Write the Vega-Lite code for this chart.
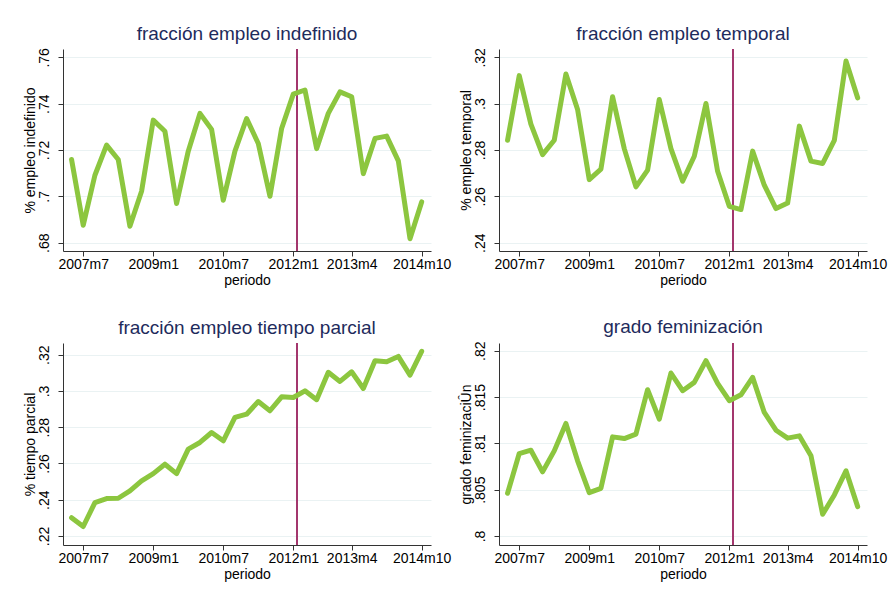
{
  "$schema": "https://vega.github.io/schema/vega-lite/v6.json",
  "background": "white",
  "padding": {"left": 22, "top": 24, "right": 5, "bottom": 5},
  "data": {"values": [
    {"t": 567, "periodo": "2007m4", "indef": 0.7159, "temp": 0.2842, "parcial": 0.2301, "femin": 0.80461},
    {"t": 570, "periodo": "2007m7", "indef": 0.6875, "temp": 0.3121, "parcial": 0.2252, "femin": 0.80890},
    {"t": 573, "periodo": "2007m10", "indef": 0.7091, "temp": 0.2912, "parcial": 0.2384, "femin": 0.80926},
    {"t": 576, "periodo": "2008m1", "indef": 0.7221, "temp": 0.2780, "parcial": 0.2406, "femin": 0.80692},
    {"t": 579, "periodo": "2008m4", "indef": 0.7159, "temp": 0.2842, "parcial": 0.2408, "femin": 0.80919},
    {"t": 582, "periodo": "2008m7", "indef": 0.6871, "temp": 0.3128, "parcial": 0.2449, "femin": 0.81215},
    {"t": 585, "periodo": "2008m10", "indef": 0.7022, "temp": 0.2975, "parcial": 0.2504, "femin": 0.80811},
    {"t": 588, "periodo": "2009m1", "indef": 0.7329, "temp": 0.2672, "parcial": 0.2544, "femin": 0.80469},
    {"t": 591, "periodo": "2009m4", "indef": 0.7281, "temp": 0.2717, "parcial": 0.2596, "femin": 0.80515},
    {"t": 594, "periodo": "2009m7", "indef": 0.6969, "temp": 0.3030, "parcial": 0.2544, "femin": 0.81070},
    {"t": 597, "periodo": "2009m10", "indef": 0.7195, "temp": 0.2806, "parcial": 0.2679, "femin": 0.81052},
    {"t": 600, "periodo": "2010m1", "indef": 0.7358, "temp": 0.2641, "parcial": 0.2716, "femin": 0.81099},
    {"t": 603, "periodo": "2010m4", "indef": 0.7289, "temp": 0.2713, "parcial": 0.2771, "femin": 0.81579},
    {"t": 606, "periodo": "2010m7", "indef": 0.6983, "temp": 0.3018, "parcial": 0.2725, "femin": 0.81261},
    {"t": 609, "periodo": "2010m10", "indef": 0.7195, "temp": 0.2806, "parcial": 0.2854, "femin": 0.81759},
    {"t": 612, "periodo": "2011m1", "indef": 0.7336, "temp": 0.2665, "parcial": 0.2872, "femin": 0.81568},
    {"t": 615, "periodo": "2011m4", "indef": 0.7228, "temp": 0.2773, "parcial": 0.2942, "femin": 0.81658},
    {"t": 618, "periodo": "2011m7", "indef": 0.7000, "temp": 0.3001, "parcial": 0.2891, "femin": 0.81892},
    {"t": 621, "periodo": "2011m10", "indef": 0.7293, "temp": 0.2708, "parcial": 0.2968, "femin": 0.81647},
    {"t": 624, "periodo": "2012m1", "indef": 0.7441, "temp": 0.2557, "parcial": 0.2964, "femin": 0.81460},
    {"t": 627, "periodo": "2012m4", "indef": 0.7459, "temp": 0.2543, "parcial": 0.3001, "femin": 0.81524},
    {"t": 630, "periodo": "2012m7", "indef": 0.7206, "temp": 0.2795, "parcial": 0.2952, "femin": 0.81712},
    {"t": 633, "periodo": "2012m10", "indef": 0.7358, "temp": 0.2648, "parcial": 0.3103, "femin": 0.81333},
    {"t": 636, "periodo": "2013m1", "indef": 0.7451, "temp": 0.2547, "parcial": 0.3053, "femin": 0.81142},
    {"t": 639, "periodo": "2013m4", "indef": 0.7430, "temp": 0.2571, "parcial": 0.3106, "femin": 0.81056},
    {"t": 642, "periodo": "2013m7", "indef": 0.7098, "temp": 0.2903, "parcial": 0.3014, "femin": 0.81081},
    {"t": 645, "periodo": "2013m10", "indef": 0.7250, "temp": 0.2752, "parcial": 0.3167, "femin": 0.80865},
    {"t": 648, "periodo": "2014m1", "indef": 0.7260, "temp": 0.2742, "parcial": 0.3161, "femin": 0.80234},
    {"t": 651, "periodo": "2014m4", "indef": 0.7153, "temp": 0.2842, "parcial": 0.3191, "femin": 0.80443},
    {"t": 654, "periodo": "2014m7", "indef": 0.6817, "temp": 0.3184, "parcial": 0.3088, "femin": 0.80703},
    {"t": 657, "periodo": "2014m10", "indef": 0.6976, "temp": 0.3025, "parcial": 0.3219, "femin": 0.80317}
  ]},
  "columns": 2,
  "bounds": "flush",
  "spacing": {"column": 68, "row": 92},
  "concat": [
    {
      "width": 368, "height": 202,
      "title": "fracción empleo indefinido",
      "layer": [
        {"mark": {"type": "rule", "color": "#a3376e", "strokeWidth": 1.2}, "encoding": {"x": {"datum": 625, "type": "quantitative"}}},
        {"mark": {"type": "line", "color": "#8cc63f", "strokeWidth": 5, "strokeCap": "round", "strokeJoin": "round"},
         "encoding": {
           "x": {"field": "t", "type": "quantitative", "title": "periodo", "scale": {"domain": [564.8, 659.4], "nice": false, "zero": false}, "axis": {"values": [570, 588, 606, 624, 639, 657]}},
           "y": {"field": "indef", "type": "quantitative", "title": "% empleo indefinido", "scale": {"domain": [0.6764, 0.7636], "nice": false, "zero": false}, "axis": {"values": [0.68, 0.7, 0.72, 0.74, 0.76]}}
         }}
      ]
    },
    {
      "width": 368, "height": 202,
      "title": "fracción empleo temporal",
      "layer": [
        {"mark": {"type": "rule", "color": "#a3376e", "strokeWidth": 1.2}, "encoding": {"x": {"datum": 625, "type": "quantitative"}}},
        {"mark": {"type": "line", "color": "#8cc63f", "strokeWidth": 5, "strokeCap": "round", "strokeJoin": "round"},
         "encoding": {
           "x": {"field": "t", "type": "quantitative", "title": "periodo", "scale": {"domain": [564.8, 659.4], "nice": false, "zero": false}, "axis": {"values": [570, 588, 606, 624, 639, 657]}},
           "y": {"field": "temp", "type": "quantitative", "title": "% empleo temporal", "scale": {"domain": [0.2364, 0.3236], "nice": false, "zero": false}, "axis": {"values": [0.24, 0.26, 0.28, 0.3, 0.32]}}
         }}
      ]
    },
    {
      "width": 368, "height": 202,
      "title": "fracción empleo tiempo parcial",
      "layer": [
        {"mark": {"type": "rule", "color": "#a3376e", "strokeWidth": 1.2}, "encoding": {"x": {"datum": 625, "type": "quantitative"}}},
        {"mark": {"type": "line", "color": "#8cc63f", "strokeWidth": 5, "strokeCap": "round", "strokeJoin": "round"},
         "encoding": {
           "x": {"field": "t", "type": "quantitative", "title": "periodo", "scale": {"domain": [564.8, 659.4], "nice": false, "zero": false}, "axis": {"values": [570, 588, 606, 624, 639, 657]}},
           "y": {"field": "parcial", "type": "quantitative", "title": "% tiempo parcial", "scale": {"domain": [0.215, 0.3265], "nice": false, "zero": false}, "axis": {"values": [0.22, 0.24, 0.26, 0.28, 0.3, 0.32]}}
         }}
      ]
    },
    {
      "width": 368, "height": 202,
      "title": "grado feminización",
      "layer": [
        {"mark": {"type": "rule", "color": "#a3376e", "strokeWidth": 1.2}, "encoding": {"x": {"datum": 625, "type": "quantitative"}}},
        {"mark": {"type": "line", "color": "#8cc63f", "strokeWidth": 5, "strokeCap": "round", "strokeJoin": "round"},
         "encoding": {
           "x": {"field": "t", "type": "quantitative", "title": "periodo", "scale": {"domain": [564.8, 659.4], "nice": false, "zero": false}, "axis": {"values": [570, 588, 606, 624, 639, 657]}},
           "y": {"field": "femin", "type": "quantitative", "title": "grado feminizaciÛn", "scale": {"domain": [0.79903, 0.82083], "nice": false, "zero": false}, "axis": {"values": [0.8, 0.805, 0.81, 0.815, 0.82]}}
         }}
      ]
    }
  ],
  "resolve": {"scale": {"x": "independent", "y": "independent"}},
  "config": {
    "font": "Liberation Sans",
    "view": {"stroke": null},
    "title": {"fontSize": 19, "fontWeight": "normal", "color": "#1e2b5c", "anchor": "middle", "offset": 0},
    "axis": {
      "labelFont": "Liberation Sans", "labelFontSize": 14, "labelColor": "#000",
      "titleFont": "Liberation Sans", "titleFontSize": 14, "titleFontWeight": "normal", "titleColor": "#000",
      "domainColor": "#333", "tickColor": "#333", "tickSize": 5, "domainWidth": 1, "tickWidth": 1,
      "gridColor": "#eaf2f3", "gridWidth": 1, "labelOverlap": false, "labelFlush": false, "labelBound": false
    },
    "axisX": {"grid": false, "labelAngle": 0, "labelPadding": 1, "titlePadding": 2,
      "labelExpr": "(floor(datum.value/12)+1960) + 'm' + (datum.value%12+1)"},
    "axisY": {"grid": true, "labelAngle": -90, "labelAlign": "center", "labelBaseline": "bottom", "labelPadding": 7, "titlePadding": 0,
      "labelExpr": "replace(toString(datum.value), '0.', '.')"}
  }
}
